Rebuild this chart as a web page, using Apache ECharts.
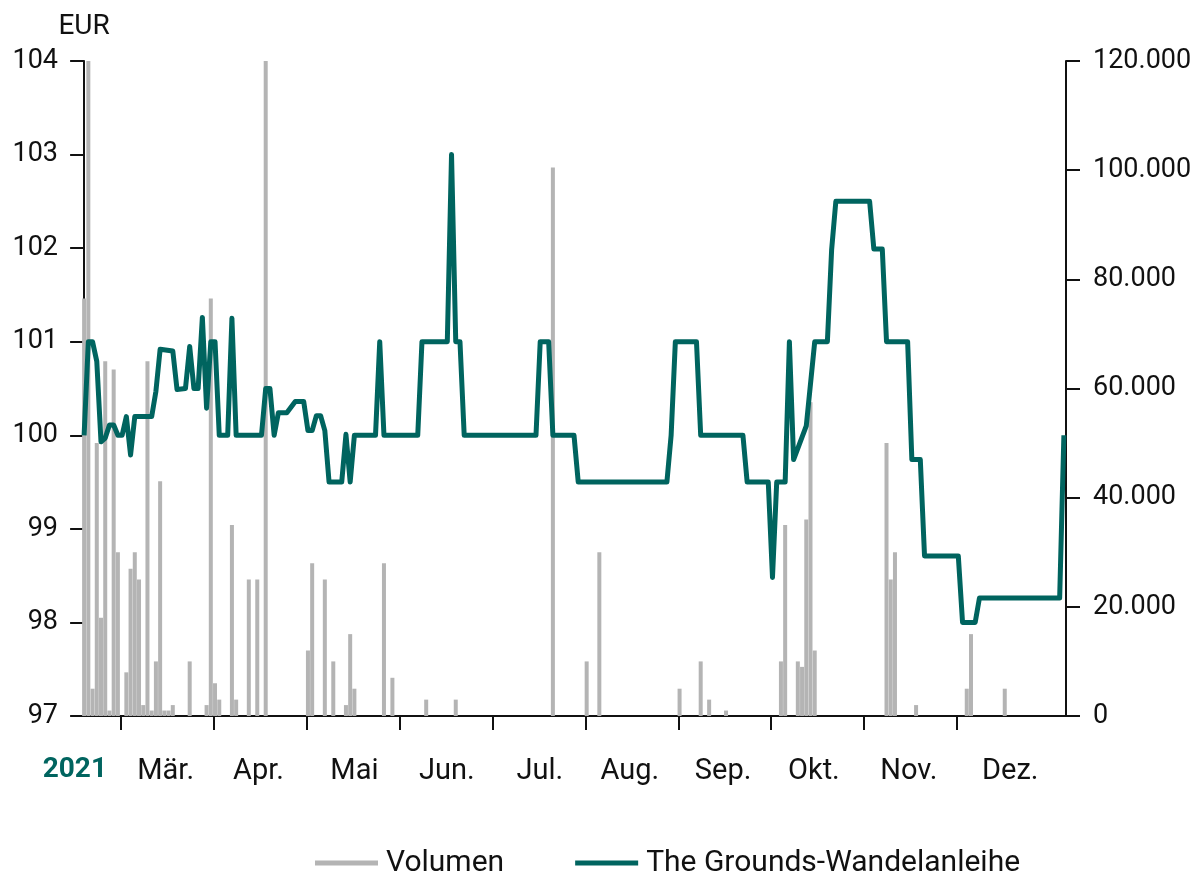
<!DOCTYPE html>
<html>
<head>
<meta charset="utf-8">
<script src="https://cdn.jsdelivr.net/npm/echarts@6/dist/echarts.min.js"></script>
<style>
  html, body { margin: 0; padding: 0; background: #ffffff; }
  #chart { width: 1196px; height: 873px; }
</style>
</head>
<body>
<div id="chart"></div>
<script>
// Trading-day index of each turning point of the bond price, and the price in EUR
const priceDay = [0, 1, 2, 3, 4, 5, 6, 7, 8, 9, 10, 11, 12, 16, 17, 18, 21, 22, 24, 25,
  26, 27, 28, 29, 30, 31, 32, 34, 35, 36, 42, 43, 44, 45, 46, 48, 50, 52, 53, 54,
  55, 56, 57, 58, 61, 62, 63, 64, 69, 70, 71, 79, 80, 86, 87, 88, 89, 90, 107, 108,
  110, 111, 116, 117, 138, 139, 140, 145, 146, 156, 157, 162, 163, 164, 166, 167, 168, 171, 173, 176,
  177, 178, 186, 187, 189, 190, 195, 196, 198, 199, 207, 208, 211, 212, 231, 232];
const priceEur = [100.0, 101.0, 101.0, 100.79, 99.93, 99.97, 100.11, 100.11, 100.0, 100.0, 100.2, 99.79, 100.2, 100.2, 100.47, 100.92, 100.9, 100.49, 100.5, 100.95,
  100.5, 100.5, 101.26, 100.29, 101.0, 101.0, 100.0, 100.0, 101.25, 100.0, 100.0, 100.5, 100.5, 100.0, 100.24, 100.24, 100.36, 100.36, 100.05, 100.05,
  100.21, 100.21, 100.05, 99.5, 99.5, 100.01, 99.5, 100.0, 100.0, 101.0, 100.0, 100.0, 101.0, 101.0, 103.0, 101.0, 101.0, 100.0, 100.0, 101.0,
  101.0, 100.0, 100.0, 99.5, 99.5, 100.0, 101.0, 101.0, 100.0, 100.0, 99.5, 99.5, 98.48, 99.5, 99.5, 101.0, 99.74, 100.1, 101.0, 101.0,
  101.98, 102.5, 102.5, 101.99, 101.99, 101.0, 101.0, 99.74, 99.74, 98.71, 98.71, 98.0, 98.0, 98.26, 98.26, 100.0];

// Trading days with turnover, and the traded volume (pieces)
const volumeDay = [0, 1, 2, 3, 4, 5, 6, 7, 8, 10, 11, 12, 13, 14, 15, 16, 17, 18, 19, 20,
  21, 25, 29, 30, 31, 32, 35, 36, 39, 41, 43, 53, 54, 57, 59, 62, 63, 64, 71, 73,
  81, 88, 111, 119, 122, 141, 146, 148, 152, 165, 166, 169, 170, 171, 172, 173, 190, 191, 192, 197,
  209, 210, 218];
const volumeQty = [76500, 120000, 5000, 50000, 18000, 65000, 1000, 63500, 30000, 8000, 27000, 30000, 25000, 2000, 65000, 1000, 10000, 43000, 1000, 1000,
  2000, 10000, 2000, 76500, 6000, 3000, 35000, 3000, 25000, 25000, 120000, 12000, 28000, 25000, 10000, 2000, 15000, 5000, 28000, 7000,
  3000, 3000, 100500, 10000, 30000, 5000, 10000, 3000, 1000, 10000, 35000, 10000, 9000, 36000, 57500, 12000, 50000, 25000, 30000, 2000,
  5000, 15000, 5000];

// Month boundaries and month captions on the trading-day axis
const monthTickDay = [8.7, 30.7, 52.7, 74.7, 96.7, 118.7, 140.7, 162.7, 184.7, 206.7];
const monthLabelDay = [19.3, 41.3, 64.0, 85.9, 107.9, 129.2, 151.3, 172.8, 195.3, 219.3];
const monthLabels = ['Mär.', 'Apr.', 'Mai', 'Jun.', 'Jul.', 'Aug.', 'Sep.', 'Okt.', 'Nov.', 'Dez.'];
const yearLabel = '2021';
const yearLabelDay = -2.2;

const TEAL = '#00645f';
const GREY = '#b4b4b4';
const INK = '#111111';
const FONT = 'Roboto';

const pricePoints = priceDay.map((d, i) => [d, priceEur[i]]);
const volumePoints = volumeDay.map((d, i) => [d, volumeQty[i]]);

const thousands = v => String(v).replace(/\B(?=(\d{3})+(?!\d))/g, '.');

const chart = echarts.init(document.getElementById('chart'), null, { renderer: 'canvas' });

const option = {
  animation: false,
  backgroundColor: '#ffffff',
  textStyle: { fontFamily: FONT, color: INK },
  grid: { left: 82, right: 130, top: 61, bottom: 157, containLabel: false },
  legend: {
    left: 310,
    top: 843,
    icon: 'rect',
    itemWidth: 63,
    itemHeight: 5,
    itemGap: 71,
    textStyle: { fontFamily: FONT, fontSize: 30, color: INK, padding: [0, 0, 0, 3] },
    data: [
      { name: 'Volumen', itemStyle: { color: GREY } },
      { name: 'The Grounds-Wandelanleihe', itemStyle: { color: TEAL } }
    ]
  },
  xAxis: {
    type: 'value',
    min: -0.5,
    max: 232.5,
    splitLine: { show: false },
    axisLine: { show: true, onZero: false, lineStyle: { color: INK, width: 2 } },
    axisTick: {
      show: true,
      inside: false,
      length: 14,
      customValues: monthTickDay,
      lineStyle: { color: INK, width: 2 }
    },
    axisLabel: {
      show: true,
      margin: 41,
      fontFamily: FONT,
      fontSize: 29,
      color: INK,
      customValues: monthLabelDay,
      formatter: v => {
        let best = 0;
        monthLabelDay.forEach((d, i) => { if (Math.abs(d - v) < Math.abs(monthLabelDay[best] - v)) best = i; });
        return monthLabels[best];
      }
    }
  },
  yAxis: [
    {
      type: 'value',
      position: 'left',
      min: 97,
      max: 104,
      interval: 1,
      name: 'EUR',
      nameLocation: 'end',
      nameGap: 20,
      nameTextStyle: { fontFamily: FONT, fontSize: 28, color: INK, align: 'center' },
      splitLine: { show: false },
      axisLine: { show: true, lineStyle: { color: INK, width: 2 } },
      axisTick: { show: true, inside: false, length: 14, lineStyle: { color: INK, width: 2 } },
      axisLabel: { margin: 24, fontFamily: FONT, fontSize: 27, color: INK }
    },
    {
      type: 'value',
      position: 'right',
      min: 0,
      max: 120000,
      interval: 20000,
      splitLine: { show: false },
      axisLine: { show: true, lineStyle: { color: INK, width: 2 } },
      axisTick: { show: true, inside: false, length: 14, lineStyle: { color: INK, width: 2 } },
      axisLabel: { margin: 27, fontFamily: FONT, fontSize: 27, color: INK, formatter: thousands }
    }
  ],
  series: [
    {
      name: 'Volumen',
      type: 'bar',
      yAxisIndex: 1,
      data: volumePoints,
      barWidth: 4,
      itemStyle: { color: GREY },
      z: 1,
      emphasis: { disabled: true }
    },
    {
      name: 'The Grounds-Wandelanleihe',
      type: 'line',
      yAxisIndex: 0,
      data: pricePoints,
      showSymbol: false,
      symbol: 'none',
      lineStyle: { color: TEAL, width: 5, join: 'round' },
      itemStyle: { color: TEAL },
      z: 3,
      emphasis: { disabled: true }
    }
  ]
};

chart.setOption(option);

// The year caption sits in the February slot, just left of the plotted range
const yearX = chart.convertToPixel({ xAxisIndex: 0 }, yearLabelDay);
chart.setOption({
  graphic: [{
    type: 'text',
    x: yearX,
    y: 770,
    style: {
      text: yearLabel,
      fontFamily: FONT,
      fontSize: 28,
      fontWeight: 'bold',
      fill: TEAL,
      align: 'center',
      verticalAlign: 'middle'
    }
  }]
});
</script>
</body>
</html>
